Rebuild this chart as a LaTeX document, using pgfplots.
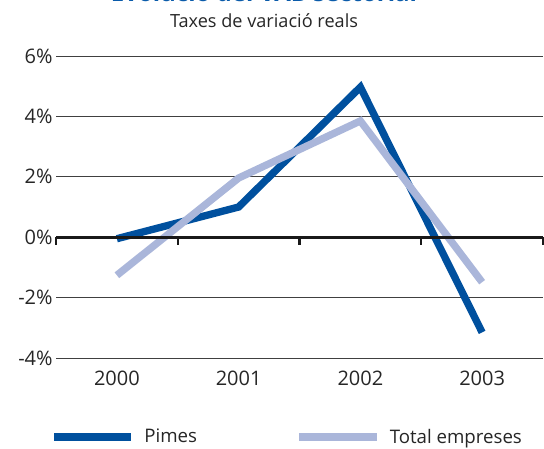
\documentclass[border=0pt]{standalone}
\usepackage{fontspec}
\setmainfont{Open Sans}
\usepackage{pgfplots}
\pgfplotsset{compat=1.18}

\definecolor{pimes}{HTML}{00509E}
\definecolor{total}{HTML}{AAB6DA}
\definecolor{titleblue}{HTML}{0A5BAA}

\begin{document}
\begin{tikzpicture}
\begin{axis}[
  name=ax,
  scale only axis,
  width=365.25pt, height=226.5pt,
  xmin=-0.5, xmax=3.5,
  ymin=-4, ymax=6,
  axis line style={draw=none},
  xtick={0,1,2,3},
  xticklabels={2000,2001,2002,2003},
  ytick={-4,-2,0,2,4,6},
  yticklabels={-4\%,-2\%,0\%,2\%,4\%,6\%},
  major tick length=0pt,
  ymajorgrids,
  grid style={black!75, line width=0.6pt},
  tick label style={font=\fontsize{15}{18}\selectfont, text=black!85},
  yticklabel style={xshift=1pt},
  xticklabel style={yshift=-6pt},
  /pgf/number format/assume math mode=true,
  legend columns=2,
  legend style={
    at={(rel axis cs:-0.012,-0.262)}, anchor=west,
    draw=none, inner sep=0pt,
    font=\fontsize{14}{17}\selectfont,
    text=black!85,
    /tikz/every even column/.append style={column sep=72pt},
  },
  legend image code/.code={\draw[#1] (0pt,0pt) -- (58pt,0pt);},
  clip=false,
]
\addplot[pimes, line width=5.5pt, line join=miter] coordinates {
  (0,-0.05) (1,1.0) (2,4.97) (3,-3.15)};
\addlegendentry{\hspace{5pt}Pimes}
\addplot[total, line width=5.5pt, line join=miter] coordinates {
  (0,-1.26) (1,1.96) (2,3.85) (3,-1.49)};
\addlegendentry{\hspace{5pt}Total empreses}
\draw[black!90, line width=2.2pt] (axis cs:-0.5,0) -- (axis cs:3.5,0);
\pgfplotsinvokeforeach{-0.5,0.5,1.5,2.5,3.5}{
  \draw[black!90, line width=1.6pt] (axis cs:#1,0) -- ([yshift=-6pt]axis cs:#1,0);
}
\end{axis}
\node[anchor=base, font=\fontsize{13.6}{16}\selectfont, text=black!85]
  at ([xshift=156pt, yshift=21.75pt]ax.north west) {Taxes de variació reals};
\node[anchor=base, font=\fontsize{18}{21}\selectfont\bfseries, text=titleblue]
  at ([xshift=156pt, yshift=41pt]ax.north west) {Evolució del VAB sectorial};
\pgfresetboundingbox
\path ([xshift=-42pt, yshift=-67.5pt]ax.south west) rectangle ([xshift=0.75pt, yshift=42pt]ax.north east);
\end{tikzpicture}
\end{document}
